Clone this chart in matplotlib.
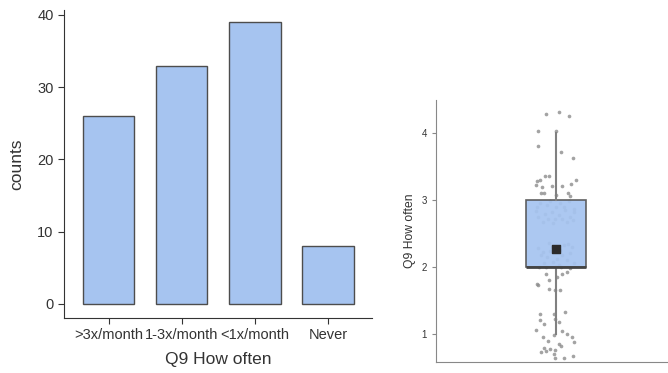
import matplotlib
matplotlib.use('Agg')
from matplotlib import pyplot as plt, rcParams
import numpy as np

rcParams['font.family'] = ['Liberation Sans', 'DejaVu Sans']

# bar chart data
categories = ['>3x/month', '1-3x/month', '<1x/month', 'Never']
counts = [26, 33, 39, 8]
codes = [1, 2, 3, 4]

# jitter: (dx, dy) per point, by code
jit_1 = [(-0.26, 0.30), (0.15, 0.32), (-0.27, 0.21), (-0.19, 0.14), (-0.01, 0.22),
         (-0.03, 0.29), (-0.33, 0.05), (-0.03, -0.02), (0.11, 0.04), (0.18, 0.00),
         (0.27, -0.05), (0.31, -0.12), (-0.22, -0.05), (-0.13, -0.11), (0.05, -0.16),
         (0.09, -0.18), (-0.19, -0.22), (-0.09, -0.23), (-0.01, -0.25), (-0.25, -0.27),
         (-0.03, -0.30), (-0.02, -0.36), (0.13, -0.36), (0.29, -0.33), (-0.16, -0.26),
         (0.06, 0.17)]
jit_2 = [(-0.28, -0.01), (-0.17, -0.01), (0.09, -0.01), (0.24, -0.02), (-0.17, -0.11),
         (0.02, -0.15), (0.11, -0.11), (-0.12, -0.20), (-0.30, -0.27), (-0.32, -0.25),
         (-0.12, -0.33), (-0.01, -0.35), (0.07, -0.34), (0.18, -0.08), (-0.25, 0.17),
         (-0.15, 0.15), (-0.07, 0.30), (0.07, 0.25), (0.18, 0.10), (-0.20, 0.05),
         (0.02, 0.12), (0.24, 0.20), (-0.12, 0.35), (0.13, 0.32), (-0.30, 0.28),
         (0.30, 0.05), (-0.05, 0.07), (0.10, 0.18), (-0.22, 0.22), (0.27, 0.30),
         (0.05, 0.02), (-0.10, 0.24), (0.20, 0.34)]
jit_3 = [(-0.32, 0.28), (-0.26, 0.29), (-0.18, 0.35), (-0.12, 0.36), (-0.33, 0.22),
         (-0.23, 0.19), (-0.07, 0.20), (0.11, 0.20), (0.26, 0.23), (0.33, 0.29),
         (-0.24, 0.11), (-0.19, 0.10), (0.01, 0.08), (0.20, 0.11), (0.24, 0.06),
         (-0.31, -0.10), (-0.15, -0.08), (0.00, -0.10), (0.13, -0.10), (0.30, -0.13),
         (-0.29, -0.25), (-0.18, -0.21), (-0.07, -0.18), (0.10, -0.28), (0.18, -0.33),
         (0.31, -0.18), (-0.21, -0.33), (-0.04, -0.35), (0.24, -0.25), (-0.10, -0.02),
         (0.07, -0.05), (-0.26, -0.04), (0.22, -0.02), (0.05, -0.22), (-0.13, -0.29),
         (0.15, -0.15), (-0.02, -0.28), (0.28, -0.30), (-0.33, -0.17)]
jit_4 = [(-0.17, 0.28), (0.06, 0.31), (0.22, 0.26), (-0.30, 0.03), (0.01, 0.03),
         (-0.29, -0.20), (0.09, -0.29), (0.29, -0.37)]
jitters = [jit_1, jit_2, jit_3, jit_4]

bar_col = '#a6c4f0'
edge_col = '#4d4d4d'

fig = plt.figure(figsize=(6.68, 3.73), dpi=100)

# --- left: bar chart ---
ax1 = fig.add_axes([0.0958, 0.1475, 0.461, 0.826])
x = np.arange(len(categories))
ax1.bar(x, counts, width=0.7, color=bar_col, edgecolor=edge_col, linewidth=1)
ax1.set_xlim(-0.61, 3.6)
ax1.set_ylim(-1.94, 40.7)
ax1.set_xticks(x)
ax1.set_xticklabels(categories)
ax1.set_yticks([0, 10, 20, 30, 40])
ax1.set_xlabel('Q9 How often', fontsize=12.5, color='#333333', labelpad=7)
ax1.set_ylabel('counts', fontsize=12.5, color='#333333', labelpad=9)
for s in ['top', 'right']:
    ax1.spines[s].set_visible(False)
for s in ['left', 'bottom']:
    ax1.spines[s].set_color('#333333')
ax1.tick_params(labelsize=10.5, colors='#333333', length=4)

# --- right: box plot with jittered points ---
ax2 = fig.add_axes([0.6527, 0.0295, 0.347, 0.702])
values = np.repeat(codes, counts)
px, py = [], []
for c, jit in zip(codes, jitters):
    for dx, dy in jit:
        px.append(dx)
        py.append(c + dy)
ax2.scatter(px, py, s=7, color='#8c8c8c', alpha=0.8, linewidths=0, zorder=1)

bp = ax2.boxplot(values, positions=[0], widths=1.0, patch_artist=True,
                 showfliers=False, showcaps=False, whis=(0, 100),
                 boxprops=dict(facecolor=bar_col, edgecolor='#555555', linewidth=1.2, alpha=0.93),
                 medianprops=dict(color='#444444', linewidth=2),
                 whiskerprops=dict(color='#808080', linewidth=1.5))
for b in bp['boxes']:
    b.set_zorder(2)
ax2.scatter([0], [values.mean()], marker='s', s=40, color='#2b2b2b', zorder=3)

ax2.set_xlim(-2.0, 1.87)
ax2.set_ylim(0.578, 4.49)
ax2.set_xticks([])
ax2.set_yticks([1, 2, 3, 4])
ax2.set_ylabel('Q9 How often', fontsize=8.7, color='#333333')
for s in ['top', 'right']:
    ax2.spines[s].set_visible(False)
for s in ['left', 'bottom']:
    ax2.spines[s].set_color('#888888')
ax2.tick_params(labelsize=7, colors='#333333', length=3)
ax2.tick_params(axis='y', color='#888888')

fig.savefig('out.png', dpi=100)
